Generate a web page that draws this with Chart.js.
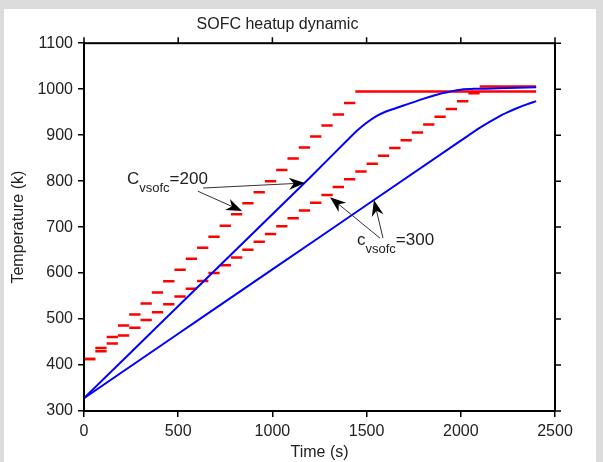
<!DOCTYPE html>
<html>
<head>
<meta charset="utf-8">
<script src="https://cdn.jsdelivr.net/npm/chart.js@4.4.1/dist/chart.umd.min.js"></script>
<style>
  body { margin: 0; background: #dcdcdc; }
  canvas { display: block; }
</style>
</head>
<body>
<canvas id="heatup" width="603" height="462"></canvas>
<script>
// set point staircase, one value per 60 s step (red dashes)
const stepTimes = [0, 60, 120, 180, 240, 300, 360, 420, 480, 540, 600, 660, 720, 780, 840, 900, 960, 1020,
                   1080, 1140, 1200, 1260, 1320, 1380, 1440, 1500, 1560, 1620, 1680, 1740, 1800, 1860, 1920,
                   1980, 2040, 2100];
const setpoint200 = [413, 437, 461, 486, 510, 534, 558, 582, 607, 631, 655, 679, 703, 728, 752, 776, 800, 824,
                     849, 873, 897, 921, 945, 970];
const setpoint300 = [413, 430, 447, 464, 481, 498, 515, 532, 549, 566, 583, 600, 617, 634, 651, 668, 685, 702,
                     719, 736, 753, 770, 787, 804, 821, 838, 855, 872, 889, 906, 923, 940, 957, 974, 991];
const holdStart = [1440, 2100];
const holdTemp = [995, 1006];
const endTime = 2400;

// SOFC temperature (blue)
const time200 = [0, 400, 800, 1200, 1400, 1450, 1500, 1550, 1600, 1650, 1700, 1800, 1900, 2000, 2100, 2200, 2300, 2400];
const temp200 = [328, 488, 648, 808, 890, 910, 927, 941, 951, 958, 965, 979, 991, 999, 1001, 1002, 1003, 1004];
const time300 = [0, 500, 1000, 1500, 2000, 2100, 2200, 2250, 2300, 2350, 2400];
const temp300 = [328, 468, 608, 748, 888, 916, 940, 950, 959, 967, 974];

const xTicks = [0, 500, 1000, 1500, 2000, 2500];
const yTicks = [300, 400, 500, 600, 700, 800, 900, 1000, 1100];

const FONT = "Arial, 'Liberation Sans', sans-serif";
const INK = '#222';

function stairs(values, hold, holdT) {
  const pts = [];
  values.forEach((v, i) => {
    pts.push({x: stepTimes[i], y: v}, {x: stepTimes[i + 1], y: v}, {x: stepTimes[i + 1], y: null});
  });
  pts.push({x: hold, y: holdT}, {x: endTime, y: holdT});
  return pts;
}

function curve(ts, vs) {
  return ts.map((t, i) => ({x: t, y: vs[i]}));
}

// labels and arrows, placed in data units
const notes = [
  {t: 228, T: 793, parts: [['C', 17, 0], ['vsofc', 13, 8], ['=200', 17, 0]]},
  {t: 1449, T: 661, parts: [['c', 17, 0], ['vsofc', 13, 8], ['=300', 17, 0]]}
];
const arrows = [
  {from: [632, 785], to: [1173, 796]},
  {from: [605, 778], to: [839, 735]},
  {from: [1571, 676], to: [1306, 765]},
  {from: [1587, 676], to: [1539, 759]}
];

function drawArrow(ctx, x1, y1, x2, y2) {
  const a = Math.atan2(y2 - y1, x2 - x1);
  const c = Math.cos(a), s = Math.sin(a);
  const len = 16, half = 6;
  ctx.beginPath();
  ctx.moveTo(x1, y1);
  ctx.lineTo(x2 - len * 0.6 * c, y2 - len * 0.6 * s);
  ctx.stroke();
  const bx = x2 - len * c, by = y2 - len * s;
  ctx.beginPath();
  ctx.moveTo(x2, y2);
  ctx.lineTo(bx + half * s, by - half * c);
  ctx.lineTo(x2 - len * 0.7 * c, y2 - len * 0.7 * s);
  ctx.lineTo(bx - half * s, by + half * c);
  ctx.closePath();
  ctx.fill();
}

const figure = {
  id: 'figure',
  beforeDraw(chart) {
    const ctx = chart.ctx;
    ctx.save();
    ctx.fillStyle = '#dcdcdc';
    ctx.fillRect(0, 0, chart.width, chart.height);
    ctx.fillStyle = '#fff';
    ctx.fillRect(4, 9, 592, chart.height - 9);
    ctx.restore();
  },
  afterDraw(chart) {
    const ctx = chart.ctx;
    const {left, right, top, bottom} = chart.chartArea;
    const xs = chart.scales.x, ys = chart.scales.y;
    ctx.save();
    ctx.strokeStyle = '#000';
    ctx.lineWidth = 2;
    ctx.strokeRect(left, top, right - left, bottom - top);
    ctx.lineWidth = 1.5;
    ctx.beginPath();
    xTicks.forEach(v => {
      const px = xs.getPixelForValue(v);
      ctx.moveTo(px, top); ctx.lineTo(px, top - 6);
    });
    yTicks.forEach(v => {
      const py = ys.getPixelForValue(v);
      ctx.moveTo(right, py); ctx.lineTo(right + 6, py);
    });
    ctx.stroke();

    // annotations
    ctx.fillStyle = INK;
    ctx.textBaseline = 'alphabetic';
    ctx.textAlign = 'left';
    notes.forEach(n => {
      let x = xs.getPixelForValue(n.t);
      const y = ys.getPixelForValue(n.T);
      n.parts.forEach(([txt, size, dy]) => {
        ctx.font = size + 'px ' + FONT;
        ctx.fillText(txt, x, y + dy);
        x += ctx.measureText(txt).width;
      });
    });
    ctx.strokeStyle = '#333';
    ctx.fillStyle = '#000';
    ctx.lineWidth = 1;
    arrows.forEach(a => {
      drawArrow(ctx,
        xs.getPixelForValue(a.from[0]), ys.getPixelForValue(a.from[1]),
        xs.getPixelForValue(a.to[0]), ys.getPixelForValue(a.to[1]));
    });
    ctx.restore();
  }
};

new Chart(document.getElementById('heatup'), {
  type: 'line',
  data: {
    datasets: [
      {
        label: 'T, C=200',
        data: curve(time200, temp200),
        borderColor: '#0000ff',
        borderWidth: 2,
        pointRadius: 0,
        cubicInterpolationMode: 'monotone'
      },
      {
        label: 'T, C=300',
        data: curve(time300, temp300),
        borderColor: '#0000ff',
        borderWidth: 2,
        pointRadius: 0,
        cubicInterpolationMode: 'monotone'
      },
      {
        label: 'set point, C=200',
        data: stairs(setpoint200, holdStart[0], holdTemp[0]),
        borderColor: '#ff0000',
        borderWidth: 2.5,
        pointRadius: 0,
        spanGaps: false
      },
      {
        label: 'set point, C=300',
        data: stairs(setpoint300, holdStart[1], holdTemp[1]),
        borderColor: '#ff0000',
        borderWidth: 2.5,
        pointRadius: 0,
        spanGaps: false
      }
    ]
  },
  options: {
    responsive: false,
    animation: false,
    events: [],
    layout: {padding: {left: 0, top: 0, right: 48, bottom: 0}},
    plugins: {
      legend: {display: false},
      tooltip: {enabled: false},
      title: {
        display: true,
        text: 'SOFC heatup dynamic',
        color: INK,
        font: {family: FONT, size: 16, weight: 'normal'},
        padding: {top: 15, bottom: 9}
      }
    },
    scales: {
      x: {
        type: 'linear',
        min: 0,
        max: 2500,
        afterBuildTicks: s => { s.ticks = xTicks.map(v => ({value: v})); },
        afterFit: s => { s.height = 51; },
        grid: {drawOnChartArea: false, drawTicks: true, tickLength: 6, color: '#000', lineWidth: 1.5},
        border: {display: true, color: '#000', width: 2},
        ticks: {color: INK, font: {family: FONT, size: 16}, padding: 5, maxRotation: 0, callback: v => String(v)},
        title: {display: true, text: 'Time (s)', color: INK, font: {family: FONT, size: 16}, padding: {top: 0, bottom: 0}}
      },
      y: {
        min: 300,
        max: 1100,
        afterBuildTicks: s => { s.ticks = yTicks.map(v => ({value: v})); },
        afterFit: s => { s.width = 84; },
        grid: {drawOnChartArea: false, drawTicks: true, tickLength: 6, color: '#000', lineWidth: 1.5},
        border: {display: true, color: '#000', width: 2},
        ticks: {color: INK, font: {family: FONT, size: 16}, padding: 5, callback: v => String(v)},
        title: {display: true, text: 'Temperature (k)', color: INK, font: {family: FONT, size: 16}, padding: {top: 9, bottom: 0}}
      }
    }
  },
  plugins: [figure]
});
</script>
</body>
</html>
